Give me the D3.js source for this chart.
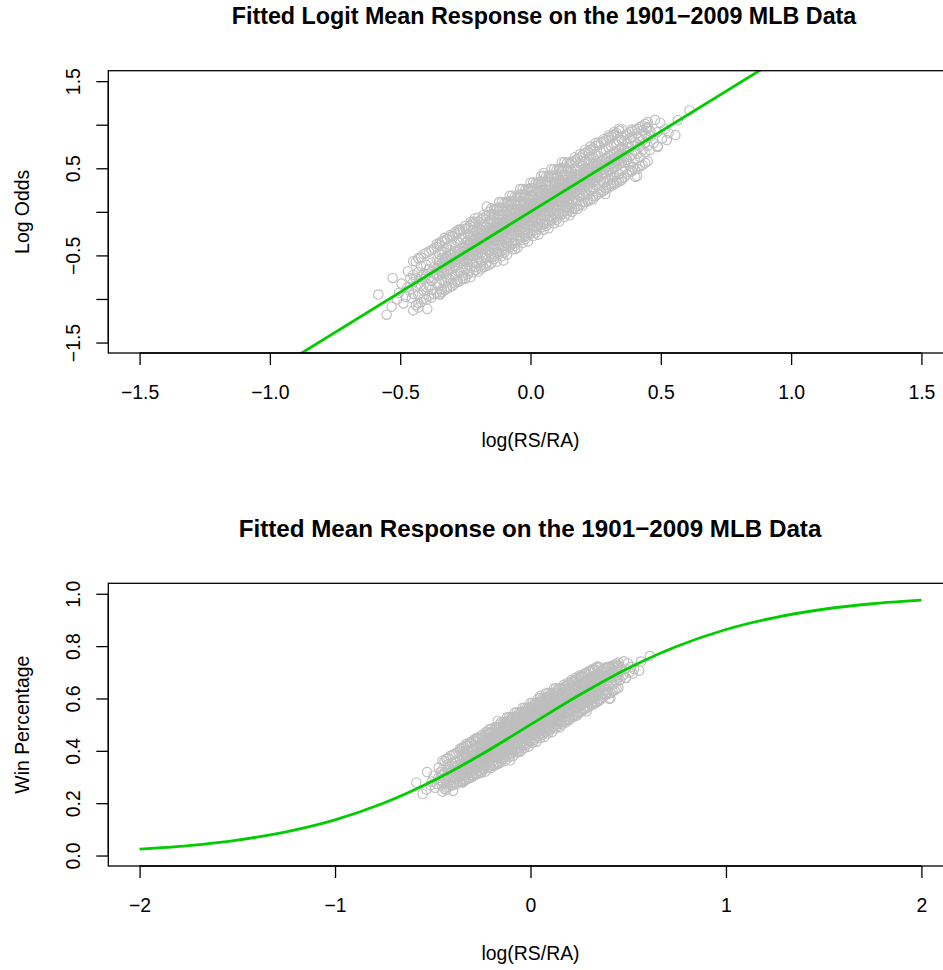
<!DOCTYPE html>
<html><head><meta charset="utf-8">
<script src="https://cdn.jsdelivr.net/npm/d3@7"></script>
<style>body{margin:0;background:#fff}text{font-family:"Liberation Sans",Arial,sans-serif;fill:#000}</style>
</head><body>
<svg id="c" width="943" height="970"></svg>
<script>
// ---- data: team seasons (log(RS/RA), win percentage), grouped by log(RS/RA) ----
const seasonColumns = [
[-0.45,[.281,.309,.327]],[-0.44,[.296,.318]],[-0.43,[.279,.305,.334]],[-0.42,[.301,.322,.349]],
[-0.41,[.288,.316,.331]],[-0.40,[.297,.326,.352]],[-0.39,[.300,.319,.341]],[-0.38,[.312,.335,.358,.291]],
[-0.37,[.318,.330,.347]],[-0.36,[.305,.327,.344,.366]],
[-0.35,[.306,.325,.338,.350,.362,.381]],[-0.34,[.314,.333,.345,.356,.371,.390]],
[-0.33,[.308,.330,.346,.358,.369,.386]],[-0.32,[.320,.337,.351,.362,.375,.399]],
[-0.31,[.316,.341,.354,.366,.379,.393]],[-0.30,[.327,.344,.358,.370,.383,.405]],
[-0.29,[.325,.349,.363,.374,.388,.402]],[-0.28,[.336,.352,.368,.379,.392,.416]],
[-0.27,[.333,.357,.371,.383,.396,.411]],[-0.26,[.345,.362,.376,.388,.401,.425]],
[-0.25,[.343,.361,.373,.382,.391,.400,.412,.428]],[-0.24,[.354,.369,.380,.388,.397,.407,.419,.437]],
[-0.23,[.346,.366,.379,.389,.398,.407,.418,.432]],[-0.22,[.360,.376,.388,.398,.408,.418,.431,.449]],
[-0.21,[.358,.378,.391,.401,.410,.419,.430,.445]],[-0.20,[.369,.385,.397,.407,.415,.425,.438,.455]],
[-0.19,[.363,.383,.396,.406,.415,.424,.435,.449]],[-0.18,[.378,.394,.406,.416,.424,.434,.446,.462]],
[-0.17,[.372,.392,.405,.415,.424,.433,.444,.458]],[-0.16,[.387,.403,.415,.425,.433,.443,.455,.473]],
[-0.15,[.383,.400,.411,.420,.427,.434,.441,.450,.461,.476]],
[-0.14,[.395,.409,.420,.428,.435,.442,.449,.458,.471,.488]],
[-0.13,[.385,.405,.418,.427,.434,.441,.448,.456,.466,.479]],
[-0.12,[.407,.420,.430,.438,.445,.452,.460,.469,.478,.492]],
[-0.11,[.404,.420,.431,.439,.447,.454,.461,.469,.480,.492]],
[-0.10,[.404,.421,.433,.442,.449,.456,.463,.471,.481,.494]],
[-0.09,[.411,.428,.439,.448,.455,.462,.469,.478,.489,.504]],
[-0.08,[.422,.436,.447,.455,.462,.469,.476,.485,.498,.515]],
[-0.07,[.413,.433,.446,.455,.462,.469,.476,.484,.494,.507]],
[-0.06,[.434,.447,.457,.465,.472,.479,.487,.496,.505,.519]],
[-0.05,[.432,.448,.459,.467,.475,.482,.489,.497,.508,.520]],
[-0.04,[.432,.449,.461,.470,.477,.484,.491,.499,.509,.522]],
[-0.03,[.438,.455,.466,.475,.482,.489,.496,.505,.516,.531]],
[-0.02,[.450,.464,.475,.483,.490,.497,.504,.513,.526,.543]],
[-0.01,[.440,.460,.473,.482,.489,.496,.503,.511,.521,.534]],
[0.00,[.462,.475,.485,.493,.500,.507,.515,.524,.533,.547]],
[0.01,[.460,.476,.487,.495,.503,.510,.517,.525,.536,.548]],
[0.02,[.459,.476,.488,.497,.504,.511,.518,.526,.536,.549]],
[0.03,[.466,.483,.494,.503,.510,.517,.524,.533,.544,.559]],
[0.04,[.477,.491,.502,.510,.517,.524,.531,.540,.553,.570]],
[0.05,[.468,.488,.501,.510,.517,.524,.531,.539,.549,.562]],
[0.06,[.490,.503,.513,.521,.528,.535,.543,.552,.561,.575]],
[0.07,[.487,.503,.514,.522,.530,.537,.544,.552,.563,.575]],
[0.08,[.487,.504,.516,.525,.532,.539,.546,.554,.564,.577]],
[0.09,[.493,.510,.521,.530,.537,.544,.551,.560,.571,.586]],
[0.10,[.505,.519,.530,.538,.545,.552,.559,.568,.581,.598]],
[0.11,[.496,.516,.529,.538,.545,.552,.559,.567,.577,.590]],
[0.12,[.517,.530,.540,.548,.555,.562,.570,.579,.588,.602]],
[0.13,[.515,.531,.542,.550,.558,.565,.572,.580,.591,.603]],
[0.14,[.514,.531,.543,.552,.559,.566,.573,.581,.591,.604]],
[0.15,[.521,.538,.549,.558,.565,.572,.579,.588,.599,.614]],
[0.16,[.529,.547,.559,.568,.577,.586,.598,.614]],[0.17,[.541,.556,.567,.575,.584,.594,.606,.624]],
[0.18,[.532,.552,.565,.575,.584,.593,.604,.618]],[0.19,[.547,.563,.575,.585,.595,.605,.618,.636]],
[0.20,[.547,.565,.577,.586,.595,.604,.616,.632]],[0.21,[.559,.574,.585,.593,.602,.612,.624,.642]],
[0.22,[.550,.570,.583,.593,.602,.611,.622,.636]],[0.23,[.564,.580,.592,.602,.612,.622,.635,.653]],
[0.24,[.565,.583,.595,.604,.613,.622,.634,.650]],[0.25,[.576,.591,.602,.610,.619,.629,.641,.659]],
[0.26,[.575,.598,.611,.623,.636,.655]],[0.27,[.589,.604,.617,.628,.643,.664]],
[0.28,[.584,.607,.620,.632,.645,.668]],[0.29,[.596,.611,.625,.637,.651,.671]],
[0.30,[.592,.616,.629,.641,.655,.677]],[0.31,[.603,.620,.634,.645,.660,.679]],
[0.32,[.599,.624,.637,.650,.663,.686]],[0.33,[.611,.628,.642,.653,.668,.684]],
[0.34,[.607,.633,.646,.658,.671,.693]],[0.35,[.619,.637,.650,.662,.677,.695]],
[0.36,[.638,.655,.671,.693]],[0.37,[.645,.668,.686]],[0.38,[.633,.652,.677,.699]],
[0.39,[.659,.681,.703]],[0.40,[.648,.669,.690]],[0.41,[.661,.684,.712]],
[0.42,[.652,.679,.697]],[0.43,[.670,.694,.718]],[0.44,[.665,.688,.709]],[0.45,[.681,.701,.726]]
];
// seasons further from the fitted curve (outer part of the band)
const seasonColumnsOuter = [
[-0.45,[.244,.362]],[-0.44,[.255,.361]],[-0.43,[.260,.370]],[-0.42,[.262,.372]],[-0.41,[.270,.381]],
[-0.40,[.268,.384]],[-0.39,[.276,.388]],[-0.38,[.272,.392]],[-0.37,[.280,.396]],[-0.36,[.283,.401]],
[-0.35,[.281,.407,.412]],[-0.34,[.285,.291,.415]],[-0.33,[.289,.419,.426]],[-0.32,[.293,.298,.423]],
[-0.31,[.296,.428,.433]],[-0.30,[.300,.307,.431]],[-0.29,[.305,.436,.442]],[-0.28,[.309,.314,.440]],
[-0.27,[.312,.445,.450]],[-0.26,[.318,.325,.449]],
[-0.25,[.318,.452,.460]],[-0.24,[.329,.336,.455]],[-0.23,[.321,.460,.471]],[-0.22,[.333,.466,.472]],
[-0.21,[.339,.347,.470]],[-0.20,[.335,.472,.484]],[-0.19,[.343,.351,.478]],[-0.18,[.346,.482,.491]],
[-0.17,[.350,.357,.488]],[-0.16,[.352,.491,.500]],
[-0.15,[.357,.372,.493,.510]],[-0.14,[.368,.375,.493,.508]],[-0.13,[.361,.383,.506,.510]],
[-0.12,[.382,.504,.513,.528]],[-0.11,[.375,.390,.511,.528]],[-0.10,[.386,.393,.511,.526]],
[-0.09,[.380,.402,.525,.529]],[-0.08,[.400,.522,.531,.546]],[-0.07,[.394,.409,.530,.547]],
[-0.06,[.404,.411,.529,.544]],[-0.05,[.398,.420,.543,.547]],[-0.04,[.419,.541,.550,.565]],
[-0.03,[.412,.427,.548,.565]],[-0.02,[.423,.430,.548,.563]],[-0.01,[.416,.438,.561,.565]],
[0.00,[.437,.559,.568,.583]],[0.01,[.431,.446,.567,.584]],[0.02,[.441,.448,.566,.581]],
[0.03,[.435,.457,.580,.584]],[0.04,[.455,.577,.586,.601]],[0.05,[.449,.464,.585,.602]],
[0.06,[.460,.467,.585,.600]],[0.07,[.453,.475,.598,.602]],[0.08,[.474,.596,.605,.620]],
[0.09,[.467,.482,.603,.620]],[0.10,[.478,.485,.603,.618]],[0.11,[.472,.494,.617,.621]],
[0.12,[.492,.614,.623,.638]],[0.13,[.486,.501,.622,.639]],[0.14,[.496,.503,.621,.636]],
[0.15,[.490,.512,.635,.639]],
[0.16,[.500,.509,.639]],[0.17,[.510,.643,.652]],[0.18,[.508,.516,.647]],[0.19,[.520,.651,.660]],
[0.20,[.519,.529,.658]],[0.21,[.528,.663,.671]],[0.22,[.530,.536,.667]],[0.23,[.535,.671,.679]],
[0.24,[.536,.545,.674]],[0.25,[.545,.680,.688]],
[0.26,[.551,.683,.689]],[0.27,[.556,.562,.688]],[0.28,[.560,.692,.697]],[0.29,[.565,.570,.695]],
[0.30,[.569,.701,.706]],[0.31,[.574,.579,.704]],[0.32,[.578,.709,.714]],[0.33,[.582,.588,.712]],
[0.34,[.586,.717,.722]],[0.35,[.590,.596,.721]],
[0.36,[.598,.706]],[0.37,[.606,.709]],[0.38,[.612,.714]],[0.39,[.615,.716]],[0.40,[.620,.719]],
[0.41,[.621,.722]],[0.42,[.628,.726]],[0.43,[.631,.729]],[0.44,[.637,.733]],[0.45,[.641,.737]]
];
const outlierSeasons = [
[-0.584,.279],[-0.552,.235],[-0.529,.319],[-0.533,.252],[-0.488,.259],[-0.430,.250],[-0.396,.247],
[-0.430,.370],[-0.360,.409],[-0.347,.279],[-0.251,.317],[-0.168,.515],[-0.104,.364],[-0.059,.395],
[0.050,.610],[0.319,.707],[0.389,.720],[0.445,.725],[0.488,.680],[0.402,.599],[0.287,.551],
[0.383,.617],[0.610,.762],[0.556,.707],[0.565,.741],[0.487,.714],[0.447,.722],[0.488,.678],
[0.409,.601],[0.393,.625],[0.457,.670],[0.223,.663],[0.316,.583],[-0.277,.449],[-0.213,.482],
[-0.505,.283],[-0.472,.296],[-0.461,.318],[-0.495,.305],[-0.478,.274],[-0.466,.289],[-0.512,.268],
[-0.455,.271],[-0.470,.336],[0.462,.705],[0.472,.688],[0.505,.699],[0.515,.721],[0.498,.735],
[0.460,.716],[0.530,.712],[0.478,.742],[0.523,.695]
];
// fitted logit line (log odds vs log(RS/RA))
const fitLineX = [-1.0, 1.0];
const fitLineY = [-1.845, 1.845];
// fitted mean response curve
const curveX = [-2,-1.75,-1.5,-1.25,-1,-0.75,-0.5,-0.25,0,0.25,0.5,0.75,1,1.25,1.5,1.75,2];
const curveP = [.0244,.0381,.0591,.0907,.1364,.2004,.2844,.3867,.5,.6133,.7156,.7996,.8636,.9093,.9409,.9619,.9756];
// axes
const topXTicks = [-1.5,-1,-0.5,0,0.5,1,1.5];
const topXLabels = ["\u22121.5","\u22121.0","\u22120.5","0.0","0.5","1.0","1.5"];
const topYTicks = [-1.5,-1,-0.5,0,0.5,1,1.5];
const topYLabels = ["\u22121.5","","\u22120.5","","0.5","","1.5"];
const botXTicks = [-2,-1,0,1,2];
const botXLabels = ["\u22122","\u22121","0","1","2"];
const botYTicks = [0,0.2,0.4,0.6,0.8,1.0];
const botYLabels = ["0.0","0.2","0.4","0.6","0.8","1.0"];
const titles = ["Fitted Logit Mean Response on the 1901\u22122009 MLB Data","Fitted Mean Response on the 1901\u22122009 MLB Data"];
const xTitle = "log(RS/RA)";
const yTitles = ["Log Odds","Win Percentage"];

const seasons = [];
seasonColumns.forEach(([x, ps]) => ps.forEach(p => seasons.push([x, p])));
seasonColumnsOuter.forEach(([x, ps]) => ps.forEach(p => seasons.push([x, p])));
outlierSeasons.forEach(d => seasons.push(d));

const svg = d3.select("#c");
svg.append("rect").attr("width",943).attr("height",970).attr("fill","#fff");
const L = 108.3, R = 952.7;
const GRAY = "#BEBEBE", GREEN = "#00CD00";
const FS = 19.4;

function panel(opt){
  const g = svg.append("g");
  const x = d3.scaleLinear().domain(opt.xd).range([L,R]);
  const y = d3.scaleLinear().domain(opt.yd).range([opt.bottom,opt.top]);
  const cid = "clip"+opt.id;
  svg.append("clipPath").attr("id",cid).append("rect")
    .attr("x",L).attr("y",opt.top).attr("width",R-L).attr("height",opt.bottom-opt.top);
  // points
  g.append("g").selectAll("circle").data(seasons).join("circle")
    .attr("cx",d=>x(d[0])).attr("cy",d=>y(opt.yv(d[1]))).attr("r",4.7)
    .attr("fill","none").attr("stroke",GRAY).attr("stroke-width",1.1);
  // fit
  g.append("path").datum(opt.line).attr("clip-path",`url(#${cid})`)
    .attr("d",d3.line().x(d=>x(d[0])).y(d=>y(d[1])).curve(opt.curve))
    .attr("fill","none").attr("stroke",GREEN).attr("stroke-width",2.8);
  // box
  g.append("rect").attr("x",L).attr("y",opt.top).attr("width",R-L).attr("height",opt.bottom-opt.top)
    .attr("fill","none").attr("stroke","#000").attr("stroke-width",1.3);
  // x axis
  const xa = d3.axisBottom(x).tickValues(opt.xt).tickFormat((d,i)=>opt.xl[i]).tickSize(12).tickSizeOuter(0);
  const gx = g.append("g").attr("transform",`translate(0,${opt.bottom})`).call(xa);
  gx.select(".domain").attr("d",`M${x(opt.xt[0])},0H${x(opt.xt[opt.xt.length-1])}`).attr("stroke-width",1.3);
  gx.selectAll(".tick line").attr("stroke-width",1.3);
  gx.selectAll(".tick text").attr("y",46.3).attr("dy",null).attr("font-size",FS)
    .attr("font-family","Liberation Sans, Arial, sans-serif");
  // y axis
  const ya = d3.axisLeft(y).tickValues(opt.yt).tickFormat((d,i)=>opt.yl[i]).tickSize(12).tickSizeOuter(0);
  const gy = g.append("g").attr("transform",`translate(${L},0)`).call(ya);
  gy.select(".domain").attr("d",`M0,${y(opt.yt[0])}V${y(opt.yt[opt.yt.length-1])}`).attr("stroke-width",1.3);
  gy.selectAll(".tick line").attr("stroke-width",1.3);
  gy.selectAll(".tick text").attr("x",null).attr("dy",null).attr("text-anchor","middle")
    .attr("transform","translate(-28.3,0) rotate(-90)").attr("font-size",FS)
    .attr("font-family","Liberation Sans, Arial, sans-serif");
  // titles
  g.append("text").attr("x",opt.titleX).attr("y",opt.top-46.7).attr("text-anchor","middle")
    .attr("font-weight","bold").attr("font-size",opt.titleSize).text(opt.title);
  g.append("text").attr("x",(L+R)/2).attr("y",opt.bottom+93.7).attr("text-anchor","middle")
    .attr("font-size",FS).text(xTitle);
  g.append("text").attr("transform",`translate(29,${(opt.top+opt.bottom)/2}) rotate(-90)`)
    .attr("text-anchor","middle").attr("font-size",FS).text(opt.ytitle);
}

panel({id:1, xd:[-1.62,1.62], yd:[-1.62,1.62], top:70.7, bottom:353,
  yv:p=>Math.log(p/(1-p)), line:fitLineX.map((v,i)=>[v,fitLineY[i]]), curve:d3.curveLinear,
  xt:topXTicks, xl:topXLabels, yt:topYTicks, yl:topYLabels, title:titles[0], titleX:544, titleSize:23.3, ytitle:yTitles[0]});
panel({id:2, xd:[-2.16,2.16], yd:[-0.04,1.04], top:583.3, bottom:866,
  yv:p=>p, line:curveX.map((v,i)=>[v,curveP[i]]), curve:d3.curveMonotoneX,
  xt:botXTicks, xl:botXLabels, yt:botYTicks, yl:botYLabels, title:titles[1], titleX:530, titleSize:24.2, ytitle:yTitles[1]});
</script>
</body></html>
